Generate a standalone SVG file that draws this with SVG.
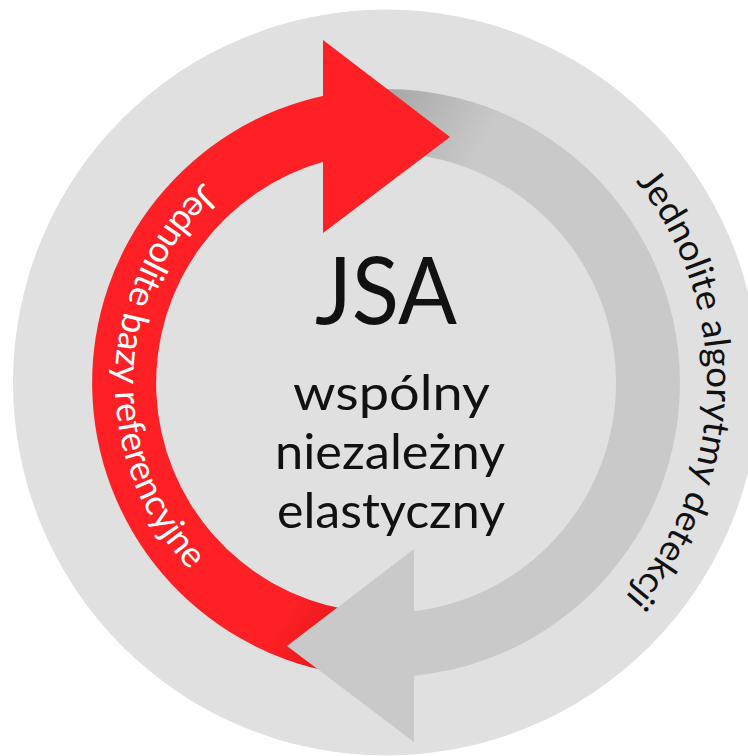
<svg xmlns="http://www.w3.org/2000/svg" width="748" height="756" viewBox="0 0 748 756">
<defs>
<linearGradient id="redEnd" gradientUnits="userSpaceOnUse" x1="285" y1="615" x2="340" y2="650">
<stop offset="0" stop-color="#fe2024"/>
<stop offset="1" stop-color="#e3161a"/>
</linearGradient>
<linearGradient id="grayStart" gradientUnits="userSpaceOnUse" x1="390" y1="100" x2="480" y2="150">
<stop offset="0" stop-color="#a9a9a9"/>
<stop offset="1" stop-color="#c9c9c9"/>
</linearGradient>
<path id="leftArc" d="M386,112 A271,271 0 0 0 386,654"/>
<path id="rightArc" d="M386,62 A321,321 0 0 1 386,704"/>
<style>
.center{font-family:Lato,"Open Sans","Liberation Sans",sans-serif;fill:#111;text-anchor:middle}
.curve{font-family:Lato,"Open Sans","Liberation Sans",sans-serif;font-size:36px}
</style>
</defs>
<rect width="748" height="756" fill="#ffffff"/>
<circle id="bg" cx="386" cy="382.5" r="373" fill="#e0e0e0"/>
<g id="connectors">
<path id="redBand" d="M326,95.2 L326,161 A230,230 0 0 0 346.06,609.5 L334.95,672.5 A294,294 0 0 1 326,95.2 Z" fill="url(#redEnd)"/>
<path id="grayArrow" d="M375.74,89.18 A294,294 0 0 1 414,675.66 L414,742 L287,646 L414,549 L414,611.29 A230,230 0 0 0 377.97,153.14 Z" fill="url(#grayStart)"/>
<polygon id="redHead" points="323,40 450,137 323,233" fill="#fe2024"/>
</g>
<g id="label-left">
<text class="curve" fill="#ffffff"><textPath href="#leftArc" startOffset="48.9%" text-anchor="middle" textLength="432" lengthAdjust="spacingAndGlyphs">Jednolite bazy referencyjne</textPath></text>
</g>
<g id="label-right">
<text class="curve" fill="#111111"><textPath href="#rightArc" startOffset="50.8%" text-anchor="middle" textLength="452" lengthAdjust="spacingAndGlyphs">Jednolite algorytmy detekcji</textPath></text>
</g>
<g id="center">
<text class="center" x="386" y="324" font-size="94" textLength="142" lengthAdjust="spacingAndGlyphs">JSA</text>
<text class="center" x="391.5" y="410" font-size="49" textLength="197" lengthAdjust="spacingAndGlyphs">wspólny</text>
<text class="center" x="390" y="469" font-size="49" textLength="230" lengthAdjust="spacingAndGlyphs">niezależny</text>
<text class="center" x="391" y="528" font-size="49" textLength="228" lengthAdjust="spacingAndGlyphs">elastyczny</text>
</g>
</svg>
